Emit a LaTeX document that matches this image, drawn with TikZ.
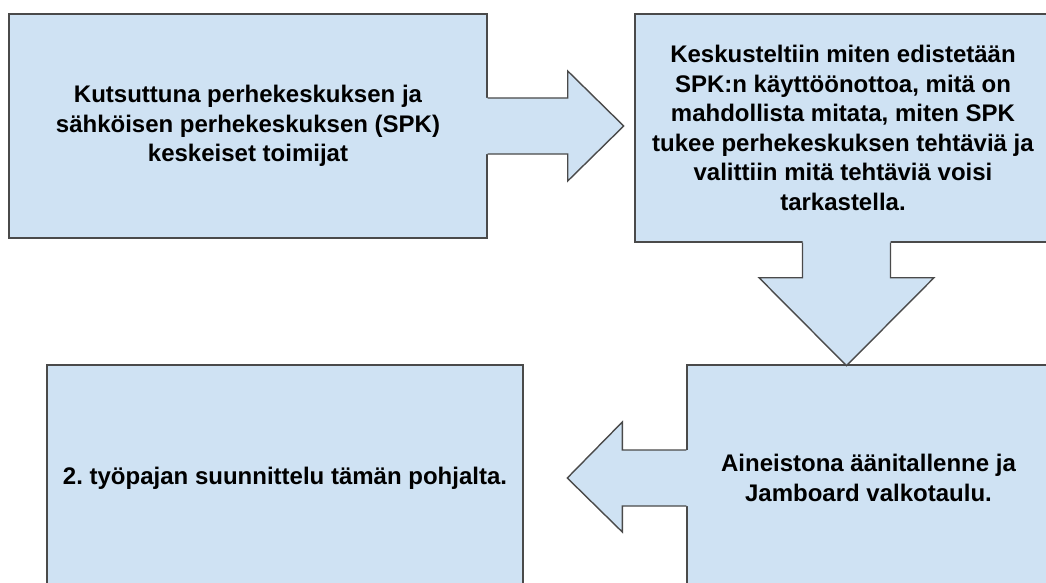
\documentclass[tikz,border=0pt]{standalone}
\usepackage{fontspec}
\setmainfont{Liberation Sans}
\definecolor{boxblue}{HTML}{CFE2F3}
\definecolor{edgegray}{HTML}{4A4A4A}
\frenchspacing

\begin{document}
\begin{tikzpicture}[x=1pt, y=-1pt,
  stage/.style={draw=edgegray,fill=boxblue,line width=1.4pt,inner sep=0pt,align=center,
    font=\fontsize{24}{29.6}\selectfont\bfseries},
  arrowfill/.style={fill=boxblue},
  arrowedge/.style={draw=edgegray,line width=1.4pt,line join=miter}]
\fill[white] (0,0) rectangle (1046,583);
\useasboundingbox (0,0) rectangle (1046,583);
\node[stage,minimum width=478pt,minimum height=224pt] (invite) at (248,126)
  {Kutsuttuna perhekeskuksen ja\\sähköisen perhekeskuksen (SPK)\\keskeiset toimijat};
\node[stage,minimum width=416pt,minimum height=228pt] (discuss) at (843,128)
  {Keskusteltiin miten edistetään\\SPK:n käyttöönottoa, mitä on\\mahdollista mitata, miten SPK\\tukee perhekeskuksen tehtäviä ja\\valittiin mitä tehtäviä voisi\\tarkastella.};
\node[stage,minimum width=363pt,minimum height=226pt] (material) at (868.5,478)
  {Aineistona äänitallenne ja\\Jamboard valkotaulu.};
\node[stage,minimum width=476pt,minimum height=226pt] (plan) at (285,478)
  {2.\ työpajan suunnittelu tämän pohjalta.};
% block arrows
\fill[arrowfill,shift={(invite.east)}] (-3,-28) -- (80,-28) -- (80,-55) -- (136,0) -- (80,55) -- (80,28) -- (-3,28) -- cycle;
\draw[arrowedge,shift={(invite.east)}] (0,-28) -- (80,-28) -- (80,-55) -- (136,0) -- (80,55) -- (80,28) -- (0,28);
\fill[arrowfill,shift={(discuss.south)}] (-40.5,-3) -- (-40.5,35) -- (-84,35) -- (3.5,123) -- (91,35) -- (47.5,35) -- (47.5,-3) -- cycle;
\draw[arrowedge,shift={(discuss.south)}] (-40.5,0) -- (-40.5,35) -- (-84,35) -- (3.5,123) -- (91,35) -- (47.5,35) -- (47.5,0);
\fill[arrowfill,shift={(material.west)}] (3,-28) -- (-64,-28) -- (-64,-56) -- (-119,0) -- (-64,54) -- (-64,28) -- (3,28) -- cycle;
\draw[arrowedge,shift={(material.west)}] (0,-28) -- (-64,-28) -- (-64,-56) -- (-119,0) -- (-64,54) -- (-64,28) -- (0,28);
\end{tikzpicture}
\end{document}
